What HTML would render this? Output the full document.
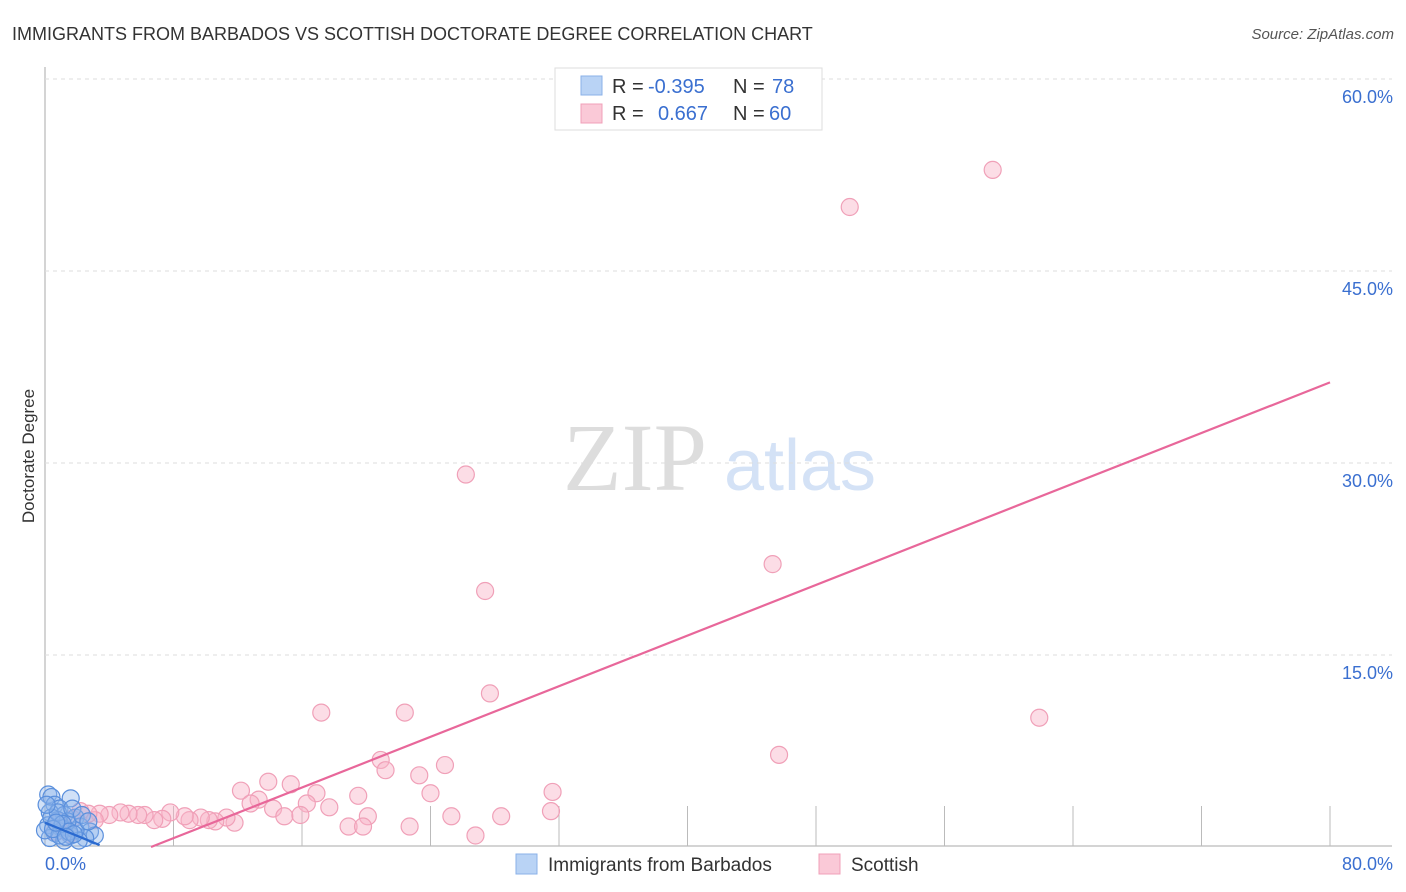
<!DOCTYPE html>
<html><head><meta charset="utf-8"><style>
body{margin:0;background:#fff;font-family:"Liberation Sans",sans-serif;}
svg{display:block}
</style></head><body>
<svg width="1406" height="892" xmlns="http://www.w3.org/2000/svg">
<text x="12" y="40" font-size="18" fill="#333">IMMIGRANTS FROM BARBADOS VS SCOTTISH DOCTORATE DEGREE CORRELATION CHART</text>
<text x="1394" y="39" font-size="15" fill="#555" text-anchor="end" font-style="italic">Source: ZipAtlas.com</text>
<text x="34" y="456" font-size="17" fill="#333" text-anchor="middle" transform="rotate(-90 34 456)">Doctorate Degree</text>
<g>
<text x="635" y="490" font-size="96" fill="#ddd" text-anchor="middle" font-family="Liberation Serif,serif">ZIP</text>
<text x="800" y="490" font-size="72" fill="#d4e2f6" text-anchor="middle">atlas</text>
</g>
<g id="grid"></g>
<g id="pts"></g>
<g id="lines"></g>
<g>
<rect x="555" y="68" width="267" height="62" fill="#fff" stroke="#ddd"/>
<rect x="581" y="76" width="21" height="19" fill="#b9d3f5" stroke="#8ab0e8"/>
<rect x="581" y="104" width="21" height="19" fill="#fac9d7" stroke="#f0a0b8"/>
<text x="612" y="93" font-size="20" fill="#333">R =</text>
<text x="648" y="93" font-size="20" fill="#3a6fd0">-0.395</text>
<text x="733" y="93" font-size="20" fill="#333">N =</text>
<text x="772" y="93" font-size="20" fill="#3a6fd0">78</text>
<text x="612" y="120" font-size="20" fill="#333">R =</text>
<text x="658" y="120" font-size="20" fill="#3a6fd0">0.667</text>
<text x="733" y="120" font-size="20" fill="#333">N =</text>
<text x="769" y="120" font-size="20" fill="#3a6fd0">60</text>
</g>
<g>
<rect x="516" y="854" width="21" height="20" fill="#b9d3f5" stroke="#8ab0e8"/>
<text x="548" y="871" font-size="19" fill="#333">Immigrants from Barbados</text>
<rect x="819" y="854" width="21" height="20" fill="#fac9d7" stroke="#f0a0b8"/>
<text x="851" y="871" font-size="19" fill="#333">Scottish</text>
</g>
</svg>
<script>
const yTicks=[15,30,45,60];
const yTickLabels=["15.0%","30.0%","45.0%","60.0%"];
const xTicks=[8,16,24,32,40,48,56,64,72,80];
const pinkX=[59.0,50.1,26.2,27.4,45.3,27.7,17.2,22.4,61.9,45.7,20.9,21.2,24.9,23.3,12.2,13.9,15.3,13.3,12.8,16.9,19.5,24.0,31.6,16.3,14.2,17.7,31.5,14.9,15.9,20.1,25.3,28.4,18.9,19.8,22.7,26.8,11.8,11.3,10.6,10.2,9.7,9.0,8.7,7.8,7.3,6.8,6.2,5.8,5.2,4.7,4.0,3.4,3.1,2.7,2.2,1.7,1.2,0.9,0.6,1.5];
const pinkY=[52.9,50.0,29.1,20.0,22.1,12.0,10.5,10.5,10.1,7.2,6.8,6.0,6.4,5.6,4.4,5.1,4.9,3.7,3.4,4.2,4.0,4.2,4.3,3.4,3.0,3.1,2.8,2.4,2.5,2.4,2.4,2.4,1.6,1.6,1.6,0.9,1.9,2.3,2.0,2.1,2.3,2.1,2.4,2.7,2.2,2.1,2.5,2.5,2.6,2.7,2.5,2.6,2.1,2.6,2.8,2.2,1.5,2.0,1.2,1.0];
const blueX=[0.2,0.4,1.6,0.6,0.9,0.3,1.2,1.9,0.8,0.2,1.0,2.2,2.8,3.1,2.5,1.6,0.6,0.3,1.2,1.9,0.0,0.4,1.4,0.8,0.1,1.7,2.3,2.7,0.9,2.1,1.1,0.5,1.5,0.7,1.8,1.3];
const blueY=[4.1,3.9,3.8,3.3,3.0,2.7,2.5,2.3,2.1,1.7,1.5,1.6,1.2,0.9,0.7,0.9,1.1,0.7,0.5,1.3,1.3,2.3,2.0,2.7,3.3,3.0,2.5,2.0,0.9,0.5,1.8,1.4,1.2,1.9,1.0,0.8];
const pinkTrend=[[6.6,0],[80,36.3]];
const blueTrend=[[0,1.9],[3.4,0.15]];
const X=v=>45+v*1285/80, Y=v=>847-v*12.8;
const NS="http://www.w3.org/2000/svg";
function mk(t,a,p){const e=document.createElementNS(NS,t);for(const k in a)e.setAttribute(k,a[k]);p.appendChild(e);return e;}
const g=document.getElementById('grid');
const ax=mk('line',{x1:45,y1:67,x2:45,y2:846,stroke:'#aaa'},g);


const bx=mk('line',{x1:45,y1:846,x2:1392,y2:846,stroke:'#aaa'},g);


yTicks.forEach((t,i)=>{
 const l=mk('line',{x1:45,y1:Y(t),x2:1392,y2:Y(t),stroke:'#ddd','stroke-dasharray':'4,4'},g);
 
 
 const tx=mk('text',{x:1393,y:Y(t)+24,'font-size':18,fill:'#3a6fd0','text-anchor':'end'},g);
 tx.textContent=yTickLabels[i];
 
 
});
xTicks.forEach(t=>{
 const l=mk('line',{x1:X(t),y1:806,x2:X(t),y2:846,stroke:'#bbb'},g);
 
 
});
const x0=mk('text',{x:45,y:870,'font-size':18,fill:'#3a6fd0'},g);x0.textContent='0.0%';


const x1=mk('text',{x:1393,y:870,'font-size':18,fill:'#3a6fd0','text-anchor':'end'},g);x1.textContent='80.0%';


const p=document.getElementById('pts');
pinkX.forEach((v,i)=>{
 const c=mk('circle',{cx:X(v),cy:Y(pinkY[i]),r:8.5,fill:'rgba(248,180,200,0.45)',stroke:'#f0a0b8','stroke-width':1.2},p);
 
 
});
blueX.forEach((v,i)=>{
 const c=mk('circle',{cx:X(v),cy:Y(blueY[i]),r:8.5,fill:'rgba(140,180,235,0.4)',stroke:'#5a8fdc','stroke-width':1.2},p);
 
 
});
const L=document.getElementById('lines');
const pl=mk('line',{x1:X(pinkTrend[0][0]),y1:Y(pinkTrend[0][1]),x2:X(pinkTrend[1][0]),y2:Y(pinkTrend[1][1]),stroke:'#e8679a','stroke-width':2.2},L);


const bl=mk('line',{x1:X(blueTrend[0][0]),y1:Y(blueTrend[0][1]),x2:X(blueTrend[1][0]),y2:Y(blueTrend[1][1]),stroke:'#2a6ad0','stroke-width':2.2},L);


</script>
</body></html>
